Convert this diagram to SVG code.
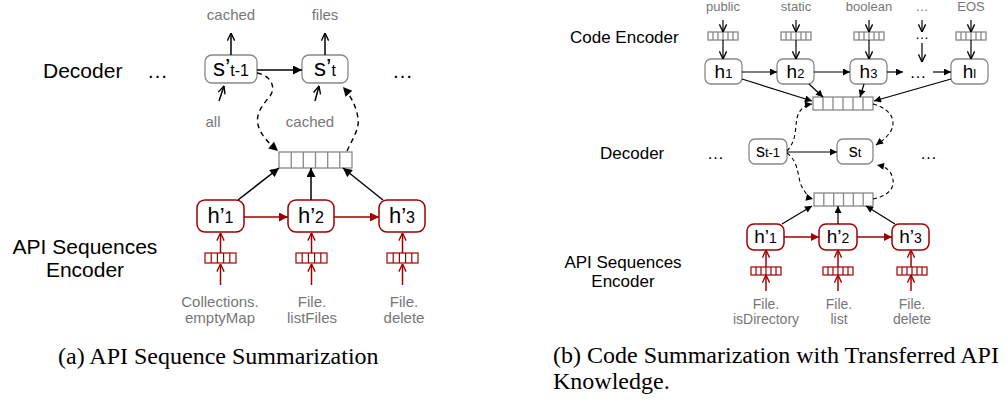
<svg xmlns="http://www.w3.org/2000/svg" width="1007" height="403" viewBox="0 0 1007 403">
<style>
.lbl{font-family:"Liberation Sans",Arial,sans-serif;fill:#000}
.g{font-family:"Liberation Sans",Arial,sans-serif;fill:#777;text-anchor:middle}
.box{fill:#fff;stroke:#888;stroke-width:1.3}
.rbox{fill:#fff;stroke:#a00000;stroke-width:1.5}
.vec{fill:#fff;stroke:#888;stroke-width:1.3}
.rvec{fill:#fff;stroke:#a00000;stroke-width:1.2}
.bt{font-family:"Liberation Sans",Arial,sans-serif;fill:#000;text-anchor:middle}
.cap{font-family:"Liberation Serif","Times New Roman",serif;font-size:24px;fill:#000}
.a{stroke:#000;fill:none;stroke-width:1.5}
.a2{stroke:#000;fill:none;stroke-width:1.2}
.ra{stroke:#a00000;fill:none;stroke-width:1.5}
.d{stroke:#000;fill:none;stroke-width:1.4;stroke-dasharray:5,4}
.d2{stroke:#000;fill:none;stroke-width:1.1;stroke-dasharray:4,3}
</style>
<defs>
<marker id="ah" viewBox="0 0 10 10" refX="10" refY="5" markerWidth="11" markerHeight="9" markerUnits="userSpaceOnUse" orient="auto"><path d="M0,0 L10,5 L0,10 z" fill="#000"/></marker>
<marker id="ahs" viewBox="0 0 10 10" refX="10" refY="5" markerWidth="9" markerHeight="7" markerUnits="userSpaceOnUse" orient="auto"><path d="M0,0 L10,5 L0,10 z" fill="#000"/></marker>
<marker id="rah" viewBox="0 0 10 10" refX="10" refY="5" markerWidth="11" markerHeight="9" markerUnits="userSpaceOnUse" orient="auto"><path d="M0,0 L10,5 L0,10 z" fill="#a00000"/></marker>
<marker id="rahs" viewBox="0 0 10 10" refX="10" refY="5" markerWidth="10" markerHeight="8" markerUnits="userSpaceOnUse" orient="auto"><path d="M0,0 L10,5 L0,10 z" fill="#a00000"/></marker>
<marker id="av" viewBox="0 0 10 10" refX="9.5" refY="5" markerWidth="9" markerHeight="9" markerUnits="userSpaceOnUse" orient="auto"><path d="M1,1 L9.5,5 L1,9" fill="none" stroke="#000" stroke-width="1.5"/></marker>
<marker id="rav" viewBox="0 0 10 10" refX="9.5" refY="5" markerWidth="9" markerHeight="9" markerUnits="userSpaceOnUse" orient="auto"><path d="M1,1 L9.5,5 L1,9" fill="none" stroke="#a00000" stroke-width="1.5"/></marker>
</defs>

<!-- ===== Left diagram (a) ===== -->
<g id="a-labels">
<text class="lbl" x="43" y="78" font-size="21">Decoder</text>
<text class="lbl" x="147" y="78" font-size="21">…</text>
<text class="lbl" x="392" y="78" font-size="21">…</text>
<text class="lbl" x="85" y="254" font-size="21" text-anchor="middle">API Sequences</text>
<text class="lbl" x="85" y="277" font-size="21" text-anchor="middle">Encoder</text>
</g>
<g id="a-words" font-size="15">
<text class="g" x="231" y="20">cached</text>
<text class="g" x="325" y="20">files</text>
<text class="g" x="213" y="127">all</text>
<text class="g" x="310" y="127">cached</text>
<text class="g" x="220" y="307">Collections.</text>
<text class="g" x="220" y="323">emptyMap</text>
<text class="g" x="312" y="307">File.</text>
<text class="g" x="312" y="323">listFiles</text>
<text class="g" x="404" y="307">File.</text>
<text class="g" x="404" y="323">delete</text>
</g>
<g id="a-s1"><rect class="box" x="205" y="55" width="52" height="28" rx="7"/><text class="bt" x="231" y="76"><tspan font-size="24">s’</tspan><tspan font-size="16">t-1</tspan></text></g>
<g id="a-s2"><rect class="box" x="302" y="55" width="46" height="28" rx="7"/><text class="bt" x="325" y="76"><tspan font-size="24">s’</tspan><tspan font-size="16">t</tspan></text></g>
<g id="a-att"><rect class="vec" x="279" y="152" width="73" height="16"/><path class="vec" d="M291.2,152v16M303.3,152v16M315.5,152v16M327.7,152v16M339.8,152v16"/></g>
<g id="a-h1"><rect class="rbox" x="197" y="200" width="47" height="32" rx="8"/><text class="bt" x="220.5" y="223"><tspan font-size="22">h’</tspan><tspan font-size="16">1</tspan></text></g>
<g id="a-h2"><rect class="rbox" x="288" y="200" width="46" height="32" rx="8"/><text class="bt" x="311" y="223"><tspan font-size="22">h’</tspan><tspan font-size="16">2</tspan></text></g>
<g id="a-h3"><rect class="rbox" x="379" y="200" width="46" height="32" rx="8"/><text class="bt" x="402" y="223"><tspan font-size="22">h’</tspan><tspan font-size="16">3</tspan></text></g>
<g id="a-e1"><rect class="rvec" x="205" y="253" width="31" height="10"/><path class="rvec" d="M211.2,253v10M217.4,253v10M223.6,253v10M229.8,253v10"/></g>
<g id="a-e2"><rect class="rvec" x="296" y="253" width="31" height="10"/><path class="rvec" d="M302.2,253v10M308.4,253v10M314.6,253v10M320.8,253v10"/></g>
<g id="a-e3"><rect class="rvec" x="387" y="253" width="31" height="10"/><path class="rvec" d="M393.2,253v10M399.4,253v10M405.6,253v10M411.8,253v10"/></g>

<g id="a-connectors">
<line class="a" x1="231" y1="55" x2="231" y2="33" marker-end="url(#av)"/>
<line class="a" x1="325" y1="55" x2="325" y2="33" marker-end="url(#av)"/>
<line class="a" x1="219" y1="101" x2="224" y2="86" marker-end="url(#av)"/>
<line class="a" x1="315" y1="101" x2="319" y2="86" marker-end="url(#av)"/>
<line class="a" x1="257" y1="70" x2="302" y2="70" marker-end="url(#ah)"/>
<path class="d" d="M257,73 C272,76 276,88 270,96 C262,106 254,115 259,128 C263,138 271,145 278,151" marker-end="url(#ah)"/>
<path class="d" d="M347,151 C352,140 360,128 358,118 C356,105 350,95 343,87" marker-end="url(#ah)"/>
<line class="a" x1="238" y1="200" x2="279" y2="168" marker-end="url(#ah)"/>
<line class="a" x1="311" y1="200" x2="311" y2="168" marker-end="url(#ah)"/>
<line class="a" x1="383" y1="200" x2="343" y2="168" marker-end="url(#ah)"/>
<line class="ra" x1="244" y1="217" x2="288" y2="217" marker-end="url(#rah)"/>
<line class="ra" x1="334" y1="217" x2="379" y2="217" marker-end="url(#rah)"/>
<line class="ra" x1="220.5" y1="253" x2="220.5" y2="233" marker-end="url(#rav)"/>
<line class="ra" x1="220.5" y1="285" x2="220.5" y2="264" marker-end="url(#rav)"/>
<line class="ra" x1="311.5" y1="253" x2="311.5" y2="233" marker-end="url(#rav)"/>
<line class="ra" x1="311.5" y1="285" x2="311.5" y2="264" marker-end="url(#rav)"/>
<line class="ra" x1="402.5" y1="253" x2="402.5" y2="233" marker-end="url(#rav)"/>
<line class="ra" x1="402.5" y1="285" x2="402.5" y2="264" marker-end="url(#rav)"/>
</g>

<!-- ===== Right diagram (b) ===== -->
<g id="b-labels">
<text class="lbl" x="570" y="43" font-size="17">Code Encoder</text>
<text class="lbl" x="600" y="159" font-size="17">Decoder</text>
<text class="lbl" x="707" y="159" font-size="17">…</text>
<text class="lbl" x="920" y="159" font-size="17">…</text>
<text class="lbl" x="623" y="268" font-size="17" text-anchor="middle">API Sequences</text>
<text class="lbl" x="623" y="287" font-size="17" text-anchor="middle">Encoder</text>
</g>
<g id="b-words" font-size="14">
<text class="g" x="723" y="11" font-size="13">public</text>
<text class="g" x="796" y="11" font-size="13">static</text>
<text class="g" x="869" y="11" font-size="13">boolean</text>
<text class="g" x="922" y="11" font-size="13">…</text>
<text class="g" x="971" y="11" font-size="13">EOS</text>
<text class="g" x="766" y="309">File.</text>
<text class="g" x="766" y="324">isDirectory</text>
<text class="g" x="839" y="309">File.</text>
<text class="g" x="839" y="324">list</text>
<text class="g" x="912" y="309">File.</text>
<text class="g" x="912" y="324">delete</text>
</g>
<g id="b-v1"><rect class="vec" x="708" y="32" width="30" height="8"/><path class="vec" d="M713,32v8M718,32v8M723,32v8M728,32v8M733,32v8"/></g>
<g id="b-v2"><rect class="vec" x="781" y="32" width="30" height="8"/><path class="vec" d="M786,32v8M791,32v8M796,32v8M801,32v8M806,32v8"/></g>
<g id="b-v3"><rect class="vec" x="854" y="32" width="30" height="8"/><path class="vec" d="M859,32v8M864,32v8M869,32v8M874,32v8M879,32v8"/></g>
<g id="b-vdots"><text class="lbl" x="922" y="39" font-size="14" text-anchor="middle">…</text></g>
<g id="b-v4"><rect class="vec" x="956" y="32" width="30" height="8"/><path class="vec" d="M961,32v8M966,32v8M971,32v8M976,32v8M981,32v8"/></g>
<g id="b-h1"><rect class="box" x="705" y="59" width="37" height="25" rx="6"/><text class="bt" x="723.5" y="78"><tspan font-size="19">h</tspan><tspan font-size="13">1</tspan></text></g>
<g id="b-h2"><rect class="box" x="777" y="59" width="37" height="25" rx="6"/><text class="bt" x="795.5" y="78"><tspan font-size="19">h</tspan><tspan font-size="13">2</tspan></text></g>
<g id="b-h3"><rect class="box" x="850" y="59" width="37" height="25" rx="6"/><text class="bt" x="868.5" y="78"><tspan font-size="19">h</tspan><tspan font-size="13">3</tspan></text></g>
<g id="b-hdots"><text class="lbl" x="918" y="78" font-size="17" text-anchor="middle">…</text></g>
<g id="b-hl"><rect class="box" x="951" y="59" width="37" height="25" rx="6"/><text class="bt" x="969.5" y="78"><tspan font-size="19">h</tspan><tspan font-size="13">l</tspan></text></g>
<g id="b-att1"><rect class="vec" x="813" y="97" width="60" height="13"/><path class="vec" d="M823,97v13M833,97v13M843,97v13M853,97v13M863,97v13"/></g>
<g id="b-s1"><rect class="box" x="749" y="139" width="38" height="25" rx="6"/><text class="bt" x="768" y="157"><tspan font-size="18">s</tspan><tspan font-size="13">t-1</tspan></text></g>
<g id="b-s2"><rect class="box" x="837" y="139" width="36" height="25" rx="6"/><text class="bt" x="855" y="157"><tspan font-size="18">s</tspan><tspan font-size="13">t</tspan></text></g>
<g id="b-att2"><rect class="vec" x="814" y="193" width="59" height="13"/><path class="vec" d="M823.8,193v13M833.7,193v13M843.5,193v13M853.3,193v13M863.2,193v13"/></g>
<g id="b-hp1"><rect class="rbox" x="747" y="224" width="37" height="26" rx="7"/><text class="bt" x="765.5" y="243"><tspan font-size="19">h’</tspan><tspan font-size="14">1</tspan></text></g>
<g id="b-hp2"><rect class="rbox" x="819" y="224" width="38" height="26" rx="7"/><text class="bt" x="838" y="243"><tspan font-size="19">h’</tspan><tspan font-size="14">2</tspan></text></g>
<g id="b-hp3"><rect class="rbox" x="892" y="224" width="37" height="26" rx="7"/><text class="bt" x="910.5" y="243"><tspan font-size="19">h’</tspan><tspan font-size="14">3</tspan></text></g>
<g id="b-e1"><rect class="rvec" x="751" y="267" width="30" height="8"/><path class="rvec" d="M756,267v8M761,267v8M766,267v8M771,267v8M776,267v8"/></g>
<g id="b-e2"><rect class="rvec" x="823" y="267" width="30" height="8"/><path class="rvec" d="M828,267v8M833,267v8M838,267v8M843,267v8M848,267v8"/></g>
<g id="b-e3"><rect class="rvec" x="897" y="267" width="30" height="8"/><path class="rvec" d="M902,267v8M907,267v8M912,267v8M917,267v8M922,267v8"/></g>

<g id="b-connectors">
<line class="a2" x1="723" y1="20" x2="723" y2="32" marker-end="url(#av)"/>
<line class="a2" x1="796" y1="20" x2="796" y2="32" marker-end="url(#av)"/>
<line class="a2" x1="869" y1="20" x2="869" y2="32" marker-end="url(#av)"/>
<line class="a2" x1="922" y1="20" x2="922" y2="32" marker-end="url(#av)"/>
<line class="a2" x1="971" y1="20" x2="971" y2="32" marker-end="url(#av)"/>
<line class="a2" x1="723" y1="40" x2="723" y2="59" marker-end="url(#av)"/>
<line class="a2" x1="796" y1="40" x2="796" y2="59" marker-end="url(#av)"/>
<line class="a2" x1="869" y1="40" x2="869" y2="59" marker-end="url(#av)"/>
<line class="a2" x1="922" y1="43" x2="922" y2="62" marker-end="url(#av)"/>
<line class="a2" x1="971" y1="40" x2="971" y2="59" marker-end="url(#av)"/>
<line class="a2" x1="742" y1="72" x2="777" y2="72" marker-end="url(#ahs)"/>
<line class="a2" x1="814" y1="72" x2="850" y2="72" marker-end="url(#ahs)"/>
<line class="a2" x1="887" y1="72" x2="903" y2="72" marker-end="url(#ahs)"/>
<line class="a2" x1="933" y1="72" x2="951" y2="72" marker-end="url(#ahs)"/>
<line class="a2" x1="742" y1="79" x2="812" y2="101" marker-end="url(#ahs)"/>
<line class="a2" x1="809" y1="84" x2="823" y2="97" marker-end="url(#ahs)"/>
<line class="a2" x1="864" y1="84" x2="860" y2="97" marker-end="url(#ahs)"/>
<line class="a2" x1="951" y1="79" x2="874" y2="101" marker-end="url(#ahs)"/>
<line class="a2" x1="787" y1="152" x2="837" y2="152" marker-end="url(#ahs)"/>
<path class="d2" d="M787,151 C797,140 795,128 797,118 C799,110 804,105 812,104" marker-end="url(#ahs)"/>
<path class="d2" d="M787,153 C800,163 797,178 802,187 C806,194 809,198 813,199" marker-end="url(#ahs)"/>
<path class="d2" d="M873,104 C895,110 897,125 888,135 C884,140 880,142 876,145" marker-end="url(#ahs)"/>
<path class="d2" d="M873,199 C893,195 897,183 890,172 C886,167 882,166 877,165" marker-end="url(#ahs)"/>
<line class="a2" x1="782" y1="224" x2="812" y2="206" marker-end="url(#ahs)"/>
<line class="a2" x1="838" y1="224" x2="838" y2="206" marker-end="url(#ahs)"/>
<line class="a2" x1="895" y1="224" x2="866" y2="206" marker-end="url(#ahs)"/>
<line class="ra" x1="784" y1="237" x2="819" y2="237" marker-end="url(#rahs)"/>
<line class="ra" x1="857" y1="237" x2="892" y2="237" marker-end="url(#rahs)"/>
<line class="ra" x1="766" y1="267" x2="766" y2="250" marker-end="url(#rav)"/>
<line class="ra" x1="766" y1="291" x2="766" y2="275" marker-end="url(#rav)"/>
<line class="ra" x1="838" y1="267" x2="838" y2="250" marker-end="url(#rav)"/>
<line class="ra" x1="838" y1="291" x2="838" y2="275" marker-end="url(#rav)"/>
<line class="ra" x1="911" y1="267" x2="911" y2="250" marker-end="url(#rav)"/>
<line class="ra" x1="911" y1="291" x2="911" y2="275" marker-end="url(#rav)"/>
</g>

<g id="captions">
<text class="cap" x="58" y="364">(a) API Sequence Summarization</text>
<text class="cap" x="553" y="363">(b) Code Summarization with Transferred API</text>
<text class="cap" x="553" y="389">Knowledge.</text>
</g>
</svg>
